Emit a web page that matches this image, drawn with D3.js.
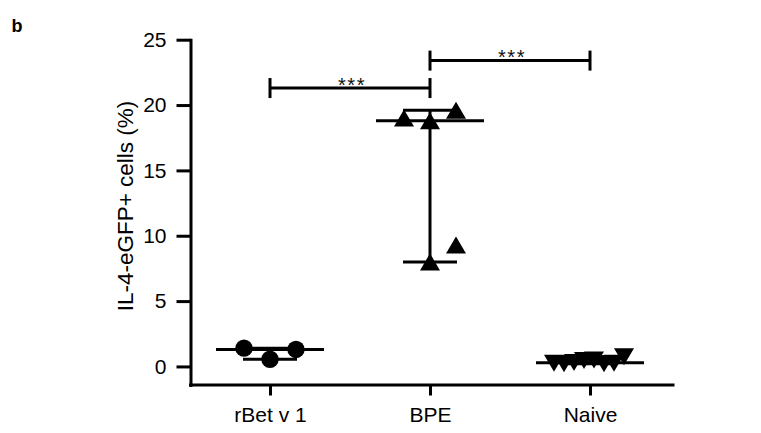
<!DOCTYPE html>
<html>
<head>
<meta charset="utf-8">
<script src="https://cdn.jsdelivr.net/npm/d3@7"></script>
<style>
  body { margin: 0; background: #fff; }
  svg { display: block; font-family: "Liberation Sans", Arial, Helvetica, sans-serif; }
</style>
</head>
<body>
<svg id="chart" width="761" height="433"></svg>
<script>
// ---- data ----
const groups = ["rBet v 1", "BPE", "Naive"];
const rbetValues = [1.4, 0.55, 1.3];
const bpeValues = [19.0, 18.8, 19.6, 9.3, 8.0];
const naiveValues = [0.25, 0.2, 0.3, 0.45, 0.5, 0.2, 0.25, 0.75];
const yTickValues = [0, 5, 10, 15, 20, 25];
const comparisonPairs = [["rBet v 1", "BPE"], ["BPE", "Naive"]];
const comparisonLevels = [21.3, 23.4];
const comparisonLabels = ["***", "***"];

// ---- layout ----
const W = 761, H = 433;
const plot = { left: 191, right: 670, axisEnd: 673, top: 39.7, bottom: 385 };
const yMin = -1.42, yMax = 25;
// horizontal slot index of each point inside its column (scatter spread)
const slots = {
  "rBet v 1": { idx: [-1, 0, 1], step: 26, shape: "circle" },
  "BPE":      { idx: [-1, 0, 1, 1, 0], step: 26, shape: "up" },
  "Naive":    { idx: [-3.6, -2.6, -1.6, -0.6, 0.4, 1.4, 2.4, 3.4], step: 10, shape: "down" }
};
const valuesByGroup = { "rBet v 1": rbetValues, "BPE": bpeValues, "Naive": naiveValues };
const medianHalf = 54, capHalf = 27, lw = 3;

const svg = d3.select("#chart");

const x = d3.scalePoint().domain(groups).range([plot.left - 1, plot.right]).padding(0.5);
const y = d3.scaleLinear().domain([yMin, yMax]).range([plot.bottom, plot.top]);

// ---- axes ----
const yAxisG = svg.append("g")
  .attr("transform", `translate(${plot.left - 0.5},0)`)
  .call(d3.axisLeft(y).tickValues(yTickValues).tickSize(14).tickSizeOuter(0).tickPadding(10));

const xAxisG = svg.append("g")
  .attr("transform", `translate(0,${plot.bottom - 0.5})`)
  .call(d3.axisBottom(x).tickSize(11).tickSizeOuter(0).tickPadding(12));
xAxisG.select(".domain").attr("d", `M${plot.left - 0.5},0.5H${plot.axisEnd}`);

[yAxisG, xAxisG].forEach(g => {
  g.selectAll("path, line").attr("stroke", "#000").attr("stroke-width", lw);
  g.select(".domain").attr("stroke-linecap", "square");
  g.selectAll("text").attr("fill", "#000").attr("font-size", 21)
    .attr("font-family", "Liberation Sans, Arial, sans-serif");
});

// y axis title
svg.append("text")
  .attr("transform", `translate(133,206) rotate(-90)`)
  .attr("text-anchor", "middle")
  .attr("font-size", 22.5)
  .attr("fill", "#000")
  .text("IL-4-eGFP+ cells (%)");

// panel letter
svg.append("text")
  .attr("x", 11.5).attr("y", 31.5)
  .attr("font-size", 18).attr("font-weight", "bold")
  .attr("fill", "#000")
  .text("b");

// ---- marker shapes (centred on their bounding box) ----
const triW = 20, triH = 17;
const triUp = { draw(ctx) { ctx.moveTo(0, -triH / 2); ctx.lineTo(triW / 2, triH / 2); ctx.lineTo(-triW / 2, triH / 2); ctx.closePath(); } };
const triDown = { draw(ctx) { ctx.moveTo(0, triH / 2); ctx.lineTo(triW / 2, -triH / 2); ctx.lineTo(-triW / 2, -triH / 2); ctx.closePath(); } };
const shapeType = { circle: d3.symbolCircle, up: triUp, down: triDown };
const shapeSize = { circle: Math.PI * 8.7 * 8.7, up: 1, down: 1 };

// ---- columns: median with range, then points ----
const marks = svg.append("g");
groups.forEach(gName => {
  const vals = valuesByGroup[gName];
  const cx = x(gName);
  const med = d3.median(vals), lo = d3.min(vals), hi = d3.max(vals);
  const col = marks.append("g").attr("stroke", "#000").attr("stroke-width", lw);
  col.append("line").attr("x1", cx).attr("x2", cx).attr("y1", y(lo)).attr("y2", y(hi));
  col.append("line").attr("x1", cx - capHalf).attr("x2", cx + capHalf).attr("y1", y(lo)).attr("y2", y(lo));
  col.append("line").attr("x1", cx - capHalf).attr("x2", cx + capHalf).attr("y1", y(hi)).attr("y2", y(hi));
  col.append("line").attr("x1", cx - medianHalf).attr("x2", cx + medianHalf).attr("y1", y(med)).attr("y2", y(med));

  const s = slots[gName];
  marks.append("g").selectAll("path")
    .data(vals)
    .join("path")
    .attr("d", d3.symbol().type(shapeType[s.shape]).size(shapeSize[s.shape]))
    .attr("transform", (d, i) => `translate(${cx + s.idx[i] * s.step},${y(d)})`)
    .attr("fill", "#000");
});

// ---- significance brackets ----
const sig = svg.append("g");
comparisonPairs.forEach((pair, i) => {
  const x1 = x(pair[0]), x2 = x(pair[1]), yy = y(comparisonLevels[i]);
  const b = sig.append("g").attr("stroke", "#000").attr("stroke-width", lw).attr("fill", "none");
  b.append("line").attr("x1", x1).attr("x2", x2).attr("y1", yy).attr("y2", yy);
  b.append("line").attr("x1", x1).attr("x2", x1).attr("y1", yy - 10).attr("y2", yy + 10);
  b.append("line").attr("x1", x2).attr("x2", x2).attr("y1", yy - 10).attr("y2", yy + 10);
  sig.append("text")
    .attr("x", (x1 + x2) / 2 + 2)
    .attr("y", yy + 3.5)
    .attr("text-anchor", "middle")
    .attr("font-size", 20)
    .attr("letter-spacing", 1.5)
    .attr("fill", "#111")
    .text(comparisonLabels[i]);
});
</script>
</body>
</html>
